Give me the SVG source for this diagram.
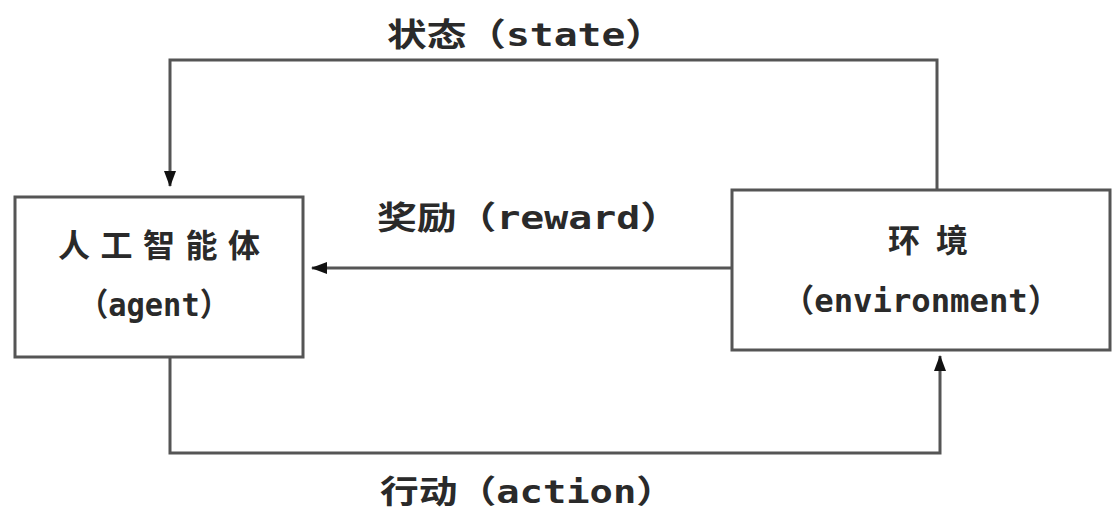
<svg xmlns="http://www.w3.org/2000/svg" width="1113" height="512" viewBox="0 0 1113 512">
<style>
.box{fill:#fff;stroke:#555;stroke-width:3}
.ln{fill:none;stroke:#555;stroke-width:3}
.t{font-family:"DejaVu Sans Mono","Noto Sans CJK SC",monospace;font-weight:bold;font-size:32px;fill:#2a2a2a}
</style>
<defs>
<marker id="ah" viewBox="0 0 16 12" refX="15" refY="6" markerWidth="16" markerHeight="12" markerUnits="userSpaceOnUse" orient="auto">
<path d="M0,0 L16,6 L0,12 Z" fill="#111"/>
</marker>
</defs>
<rect width="1113" height="512" fill="#fff"/>
<g id="connectors">
<path class="ln" d="M937,190 V60 H170 V186" marker-end="url(#ah)"/>
<path class="ln" d="M732,268 H312" marker-end="url(#ah)"/>
<path class="ln" d="M170,357 V453 H940 V356" marker-end="url(#ah)"/>
<text class="t" x="387" y="46" textLength="278" lengthAdjust="spacingAndGlyphs">状态（state）</text>
<text class="t" x="377" y="229" textLength="303" lengthAdjust="spacingAndGlyphs">奖励（reward）</text>
<text class="t" x="380" y="503" textLength="295" lengthAdjust="spacingAndGlyphs">行动（action）</text>
</g>
<g id="agent">
<rect class="box" x="15" y="197" width="288" height="160"/>
<text class="t" x="58" y="257" textLength="202" lengthAdjust="spacing">人工智能体</text>
<text class="t" x="78" y="316" textLength="152" lengthAdjust="spacingAndGlyphs">（agent）</text>
</g>
<g id="environment">
<rect class="box" x="732" y="190" width="378" height="160"/>
<text class="t" x="888" y="252" textLength="80" lengthAdjust="spacing">环境</text>
<text class="t" x="782" y="312" textLength="278" lengthAdjust="spacingAndGlyphs">（environment）</text>
</g>
</svg>
